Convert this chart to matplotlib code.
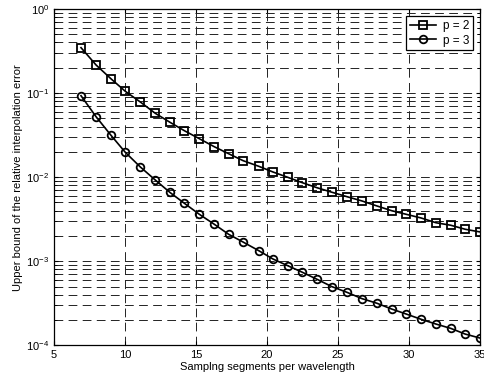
import matplotlib
matplotlib.use("Agg")
import matplotlib.pyplot as plt
from matplotlib.ticker import LogLocator, FixedLocator, NullLocator

plt.rcParams['font.family'] = ['Liberation Sans', 'DejaVu Sans']

segments = [6.90, 7.96, 9.01, 10.02, 11.08, 12.13, 13.17, 14.18, 15.23, 16.29,
            17.30, 18.32, 19.42, 20.42, 21.46, 22.49, 23.52, 24.58, 25.63, 26.69,
            27.75, 28.78, 29.79, 30.85, 31.90, 32.94, 33.96, 35.0]
err_p2 = [0.347, 0.216, 0.148, 0.105, 0.0783, 0.0575, 0.0449, 0.0357, 0.0287, 0.0230,
          0.0190, 0.0157, 0.01346, 0.01152, 0.00996, 0.00859, 0.00749, 0.00661, 0.00586, 0.00521,
          0.00454, 0.00399, 0.00362, 0.00327, 0.00287, 0.00268, 0.00240, 0.00223]
err_p3 = [0.0931, 0.0524, 0.0315, 0.01975, 0.01321, 0.00925, 0.00657, 0.00489, 0.00362, 0.00275,
          0.00209, 0.00169, 0.001335, 0.001063, 0.000885, 0.000739, 0.000610, 0.000498, 0.000427, 0.000359,
          0.000316, 0.000270, 0.000236, 0.000204, 0.000179, 0.000159, 0.000136, 0.000122]
labels = ['p = 2', 'p = 3']
x_ticks = [5, 10, 15, 20, 25, 30, 35]

fig = plt.figure(figsize=(4.84, 3.85), dpi=100)
ax = fig.add_axes([0.1116, 0.1031, 0.8801, 0.8735])

ax.semilogy(segments, err_p2, '-s', color='black', lw=1.2, ms=5.3, mfc='none',
            mec='black', mew=1.3, label=labels[0], zorder=3)
ax.semilogy(segments, err_p3, '-o', color='black', lw=1.2, ms=5.5, mfc='none',
            mec='black', mew=1.3, label=labels[1], zorder=3)

ax.set_xlim(5, 35)
ax.set_ylim(1e-4, 1e0)
ax.xaxis.set_major_locator(FixedLocator(x_ticks))
ax.xaxis.set_minor_locator(NullLocator())
ax.yaxis.set_major_locator(LogLocator(base=10, numticks=10))
ax.yaxis.set_minor_locator(LogLocator(base=10, subs=range(2, 10), numticks=20))

grid_style = dict(color='#222222', linestyle=(0, (9, 5.5)), linewidth=0.7)
ax.grid(True, which='major', axis='both', **grid_style)
ax.grid(True, which='minor', axis='y', **grid_style)

ax.tick_params(which='both', direction='in', labelsize=8, top=True, right=True)
ax.tick_params(which='minor', length=2)
ax.tick_params(which='major', length=3)
for s in ax.spines.values():
    s.set_linewidth(0.9)

ax.set_xlabel('Samplng segments per wavelength', fontsize=8, labelpad=1)
ax.set_ylabel('Upper bound of the relative interpolation error', fontsize=8, labelpad=2)

leg = ax.legend(loc='upper right', fontsize=8.5, fancybox=False, framealpha=1,
                edgecolor='black', borderpad=0.3, handlelength=2.2, handletextpad=0.6,
                labelspacing=0.25, borderaxespad=0.6)
leg.get_frame().set_linewidth(0.9)

fig.savefig('out.png', dpi=100)
